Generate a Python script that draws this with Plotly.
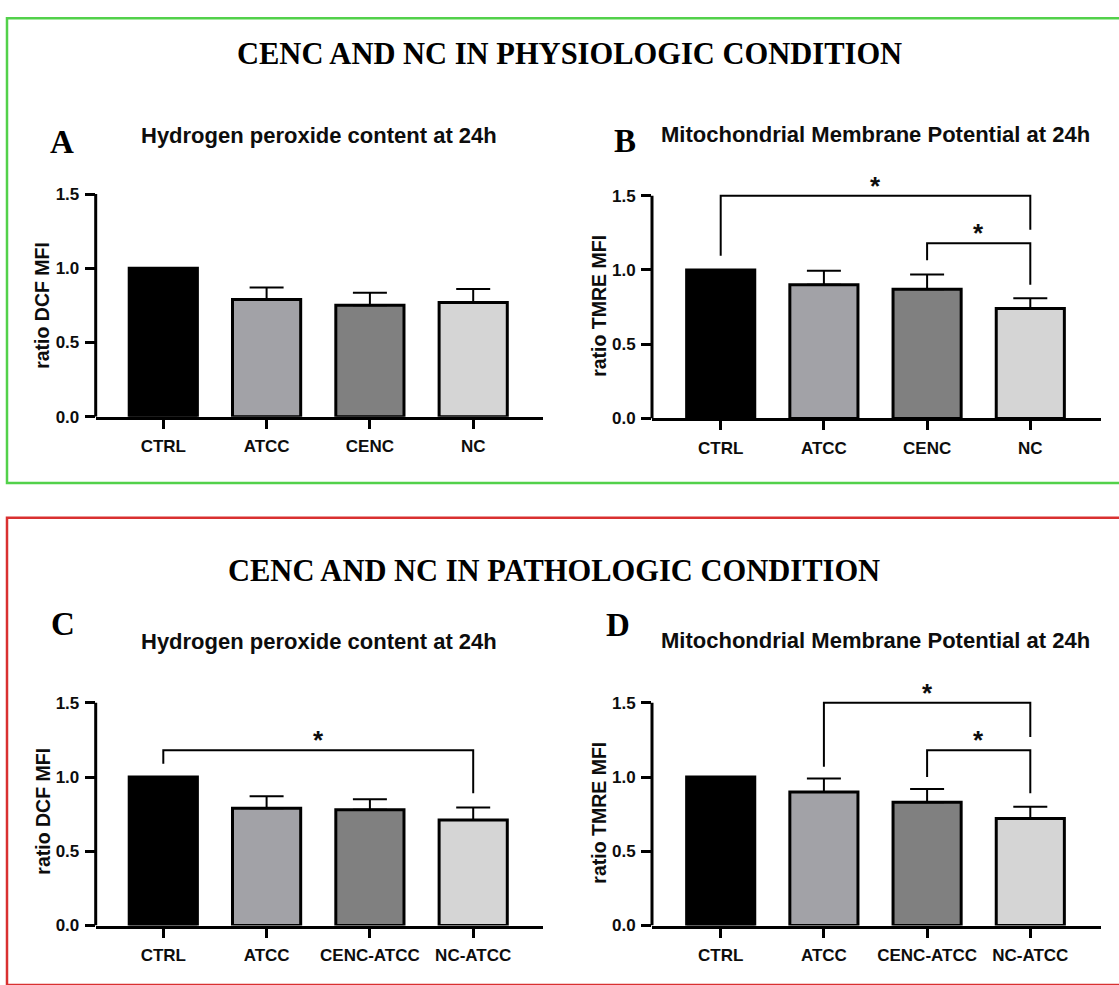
import plotly.graph_objects as go

W, H = 1119, 985

# ---------------- data ----------------
groups_phys = ["CTRL", "ATCC", "CENC", "NC"]
groups_path = ["CTRL", "ATCC", "CENC-ATCC", "NC-ATCC"]
bar_colors = ["#000000", "#a2a2a7", "#808080", "#d5d5d5"]

dcf_phys_mean = [1.00, 0.79, 0.75, 0.77]
dcf_phys_sd = [0.0, 0.08, 0.085, 0.09]
tmre_phys_mean = [1.00, 0.90, 0.87, 0.74]
tmre_phys_sd = [0.0, 0.095, 0.10, 0.07]
dcf_path_mean = [1.00, 0.79, 0.78, 0.71]
dcf_path_sd = [0.0, 0.08, 0.07, 0.085]
tmre_path_mean = [1.00, 0.90, 0.83, 0.72]
tmre_path_sd = [0.0, 0.09, 0.09, 0.08]

# significance brackets: (left group, right group, bracket height, left leg end, right leg end)
sig_A = []
sig_B = [(0, 3, 1.50, 1.095, 1.27), (2, 3, 1.18, 1.065, 0.90)]
sig_C = [(0, 3, 1.18, 1.09, 0.89)]
sig_D = [(1, 3, 1.50, 1.07, 1.27), (2, 3, 1.18, 1.00, 0.89)]
sig_label = "*"

ytick_vals = [0.0, 0.5, 1.0, 1.5]
ytick_text = ["0.0", "0.5", "1.0", "1.5"]

section_titles = ["CENC AND NC IN PHYSIOLOGIC CONDITION", "CENC AND NC IN PATHOLOGIC CONDITION"]

# ---------------- layout helpers ----------------
SANS = "Liberation Sans"
SERIF = "Liberation Serif"
INK = "#0d0d0d"
Y_MAX = 1.75
PX_PER_UNIT = 150.0


def fx(px):
    return px / W


def fy(py):
    return 1 - py / H


panels = [
    dict(key="A", xa="x", ya="y", cats=groups_phys, mean=dcf_phys_mean, sd=dcf_phys_sd, sig=sig_A,
         title="Hydrogen peroxide content at 24h", ytitle="ratio DCF MFI",
         left=95.7, right=543, c0=163.3, step=103.3, zero=421,
         title_xy=(318.5, 137), ytitle_xy=(42, 309), letter_xy=(61.7, 143.5)),
    dict(key="B", xa="x2", ya="y2", cats=groups_phys, mean=tmre_phys_mean, sd=tmre_phys_sd, sig=sig_B,
         title="Mitochondrial Membrane Potential at 24h", ytitle="ratio TMRE MFI",
         left=652, right=1101, c0=720.7, step=103.2, zero=422.7,
         title_xy=(875, 136), ytitle_xy=(599, 309), letter_xy=(625, 142)),
    dict(key="C", xa="x3", ya="y3", cats=groups_path, mean=dcf_path_mean, sd=dcf_path_sd, sig=sig_C,
         title="Hydrogen peroxide content at 24h", ytitle="ratio DCF MFI",
         left=95.7, right=543, c0=163.3, step=103.3, zero=935,
         title_xy=(318.5, 648), ytitle_xy=(43, 820), letter_xy=(62.5, 630.5)),
    dict(key="D", xa="x4", ya="y4", cats=groups_path, mean=tmre_path_mean, sd=tmre_path_sd, sig=sig_D,
         title="Mitochondrial Membrane Potential at 24h", ytitle="ratio TMRE MFI",
         left=652, right=1101, c0=720.7, step=103.2, zero=935,
         title_xy=(875, 647), ytitle_xy=(599, 821), letter_xy=(618, 631.5)),
]

fig = go.Figure()
layout = dict(
    width=W, height=H,
    margin=dict(l=0, r=0, t=0, b=0),
    paper_bgcolor="white", plot_bgcolor="white",
    showlegend=False, hovermode=False,
)
shapes = []
annotations = []

tick_font = dict(family=SANS, size=17, color=INK, weight="bold")

for p in panels:
    xa, ya = p["xa"], p["ya"]
    xs = list(range(len(p["cats"])))

    fig.add_trace(go.Bar(
        x=xs, y=p["mean"], width=0.66,
        marker=dict(color=bar_colors, line=dict(color="black", width=3)),
        error_y=dict(type="data", symmetric=False, array=p["sd"], arrayminus=[0] * len(xs),
                     color="black", thickness=2, width=17),
        xaxis=xa, yaxis=ya, hoverinfo="skip",
    ))

    for (l, r, h, le, re) in p["sig"]:
        fig.add_trace(go.Scatter(
            x=[l, l, r, r], y=[le, h, h, re], mode="lines",
            line=dict(color="black", width=2),
            xaxis=xa, yaxis=ya, hoverinfo="skip", cliponaxis=False,
        ))
        annotations.append(dict(
            x=(l + r) / 2, y=h + 0.107, xref=xa, yref=ya, text=sig_label, showarrow=False,
            xanchor="center", yanchor="middle", yshift=-6,
            font=dict(family=SANS, size=26, color=INK, weight="bold"),
        ))

    x_range = [(p["left"] - p["c0"]) / p["step"], (p["right"] - p["c0"]) / p["step"]]
    top_px = p["zero"] - Y_MAX * PX_PER_UNIT
    xname = "xaxis" if xa == "x" else "xaxis" + xa[1:]
    yname = "yaxis" if ya == "y" else "yaxis" + ya[1:]
    layout[xname] = dict(
        domain=[fx(p["left"]), fx(p["right"])], range=x_range, anchor=ya,
        tickmode="array", tickvals=xs, ticktext=p["cats"],
        showline=True, linecolor="black", linewidth=3,
        ticks="outside", ticklen=9, tickwidth=3, tickcolor="black",
        tickfont=tick_font, showgrid=False, zeroline=False, fixedrange=True,
        ticklabelstandoff=3,
    )
    layout[yname] = dict(
        domain=[fy(p["zero"]), fy(top_px)], range=[0, Y_MAX], anchor=xa,
        tickmode="array", tickvals=ytick_vals, ticktext=ytick_text,
        showline=False, ticks="outside", ticklen=10, tickwidth=3, tickcolor="black",
        tickfont=tick_font, showgrid=False, zeroline=False, fixedrange=True,
        ticklabelstandoff=2,
    )
    # y axis spine stops at the top tick
    shapes.append(dict(type="line", xref="paper", yref=ya, x0=fx(p["left"]), x1=fx(p["left"]),
                       y0=0, y1=1.5, line=dict(color="black", width=3)))

    tx, ty = p["title_xy"]
    annotations.append(dict(x=fx(tx), y=fy(ty), xref="paper", yref="paper", text=p["title"],
                            showarrow=False, xanchor="center", yanchor="middle",
                            font=dict(family=SANS, size=22, color=INK, weight="bold")))
    yx, yy = p["ytitle_xy"]
    annotations.append(dict(x=fx(yx), y=fy(yy), xref="paper", yref="paper", text=p["ytitle"],
                            showarrow=False, textangle=-90, xanchor="center", yanchor="middle",
                            font=dict(family=SANS, size=19.5, color=INK, weight="bold")))
    lx, ly = p["letter_xy"]
    annotations.append(dict(x=fx(lx), y=fy(ly), xref="paper", yref="paper", text=p["key"],
                            showarrow=False, xanchor="center", yanchor="middle",
                            font=dict(family=SERIF, size=33, color="black", weight="bold")))

# section headings
for text, (cx, cy) in zip(section_titles, [(569.5, 55), (554, 576.5)]):
    annotations.append(dict(x=fx(cx), y=fy(cy), xref="paper", yref="paper", text=text,
                            showarrow=False, xanchor="center", yanchor="middle",
                            font=dict(family=SERIF, size=30.5, color="black", weight="bold")))

# coloured frames around the two sections
shapes.append(dict(type="rect", xref="paper", yref="paper", x0=fx(7), x1=fx(1130),
                   y0=fy(488), y1=fy(18.5), line=dict(color="#52d14a", width=2.5)))
shapes.append(dict(type="rect", xref="paper", yref="paper", x0=fx(7), x1=fx(1130),
                   y0=fy(995), y1=fy(523), line=dict(color="#d93030", width=2.5)))

layout["shapes"] = shapes
layout["annotations"] = annotations
fig.update_layout(**layout)

fig.write_html("out.html")
